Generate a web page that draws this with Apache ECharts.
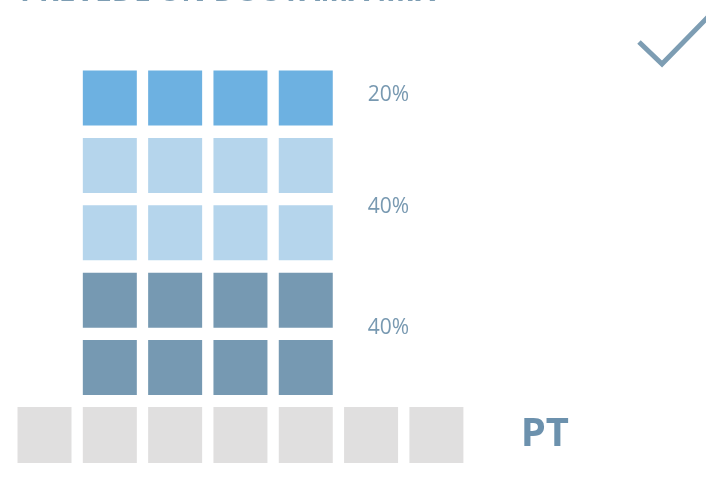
<!DOCTYPE html>
<html>
<head>
<meta charset="utf-8">
<script src="https://cdn.jsdelivr.net/npm/echarts@6/dist/echarts.min.js"></script>
<style>html,body{margin:0;padding:0;background:#fff}#c{width:706px;height:482px}</style>
</head>
<body>
<div id="c"></div>
<script>
// Data
const categories = ['PT'];
const segmentLabels = ['40%', '40%', '20%'];      // bottom to top
const segmentValues = [40, 40, 20];              // percent
const segmentColors = ['#7699b2', '#b5d5ec', '#6db1e1'];
const percentPerRow = 20;
const squaresPerRow = 4;
const baseSquares = 7;
const titleText = 'PREVEDE UN DOUTAMA MIX';

// build squares
const labelShift = [0.09, -0.12, 0.04];
const baseData = [];
for (let i = 0; i < baseSquares; i++) baseData.push([i, 0]);
const segSeries = [];
const labelData = [];
let row = 1;
segmentValues.forEach((v, si) => {
  const rows = v / percentPerRow;
  const d = [];
  for (let r = 0; r < rows; r++) {
    for (let c = 0; c < squaresPerRow; c++) d.push([c + 1, row + r]);
  }
  labelData.push({ value: [4.95, row + (rows - 1) / 2 + labelShift[si]], label: { formatter: segmentLabels[si] } });
  segSeries.push({
    type: 'scatter', symbol: 'rect', symbolSize: [54, 55], silent: true,
    itemStyle: { color: segmentColors[si], opacity: 1 }, data: d
  });
  row += rows;
});

const chart = echarts.init(document.getElementById('c'));
chart.setOption({
  animation: false,
  grid: { left: 11.85, right: 41, top: 64.3, bottom: 13.3 },
  xAxis: { type: 'value', min: -0.5, max: 9.5, show: false },
  yAxis: { type: 'value', min: -0.5, max: 5.5, show: false },
  graphic: [
    { type: 'text', x: 20, y: 7, style: { text: titleText, fontSize: 30, fontWeight: 'bold', fontFamily: 'Open Sans', fill: '#7d9db3', verticalAlign: 'bottom' } },
    { type: 'polyline', shape: { points: [[639, 42], [662, 64], [708, 17]] }, style: { stroke: '#7d9db3', lineWidth: 5, fill: null } }
  ],
  series: [
    { type: 'scatter', symbol: 'rect', symbolSize: [54, 56], silent: true, itemStyle: { color: '#e0dfdf', opacity: 1 }, data: baseData },
    ...segSeries,
    {
      type: 'scatter', symbolSize: 0, silent: true, data: labelData, itemStyle: { opacity: 1 },
      label: { show: true, position: 'right', distance: 0, color: '#7899b1', fontSize: 21, fontFamily: 'Open Sans', opacity: 1 }
    },
    {
      type: 'scatter', symbolSize: 0, silent: true, itemStyle: { opacity: 1 },
      data: [{ value: [7.66, 0], name: categories[0] }],
      label: { show: true, position: 'inside', formatter: '{b}', color: '#6c91ad', fontSize: 40, fontWeight: 'bold', fontFamily: 'Open Sans', opacity: 1 }
    }
  ]
});
</script>
</body>
</html>
